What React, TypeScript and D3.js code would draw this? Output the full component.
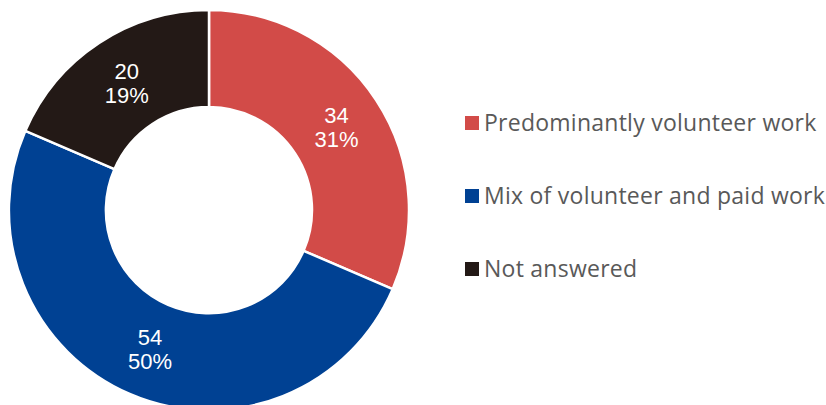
import React from "react";
import * as d3 from "d3";

const categories = ["Predominantly volunteer work", "Mix of volunteer and paid work", "Not answered"];
const values = [34, 54, 20];
const colors = ["#D24B48", "#004193", "#231916"];

export default function App() {
  const width = 826;
  const height = 405;
  const cx = 209;
  const cy = 210;
  const outerR = 200;
  const innerR = 103;
  const total = d3.sum(values);
  const pie = d3.pie<number>().sort(null).value((d) => d);
  const arcs = pie(values);
  const arc = d3.arc<d3.PieArcDatum<number>>().innerRadius(innerR).outerRadius(outerR);
  const legendY = d3.scalePoint<string>().domain(categories).range([123, 269]);
  const legendFont = "'Open Sans', sans-serif";
  const labelFont = "'Liberation Sans', Arial, sans-serif";
  return (
    <svg width={width} height={height} style={{ position: "absolute", left: 0, top: 0, display: "block" }}>
      <rect width={width} height={height} fill="#fff" />
      <g transform={`translate(${cx},${cy})`}>
        {arcs.map((a, i) => (
          <path key={i} d={arc(a) || ""} fill={colors[i]} stroke="#fff" strokeWidth={2.5} strokeLinejoin="miter" />
        ))}
        {arcs.map((a, i) => {
          const [x, y] = arc.centroid(a);
          const pct = Math.round((values[i] / total) * 100);
          return (
            <g key={i}>
              <text x={x + 1} y={y - 12} dy="0.36em" fill="#fff" fontFamily={labelFont} fontSize={22} textAnchor="middle">{values[i]}</text>
              <text x={x + 1} y={y + 12} dy="0.36em" fill="#fff" fontFamily={labelFont} fontSize={22} textAnchor="middle">{pct}%</text>
            </g>
          );
        })}
      </g>
      {categories.map((c, i) => {
        const y = legendY(c) as number;
        return (
          <g key={c}>
            <rect x={465} y={y - 7} width={14} height={14} fill={colors[i]} />
            <text x={484} y={y} dy="0.36em" fill="#595959" fontFamily={legendFont} fontSize={23} letterSpacing={0.25}>{c}</text>
          </g>
        );
      })}
    </svg>
  );
}
